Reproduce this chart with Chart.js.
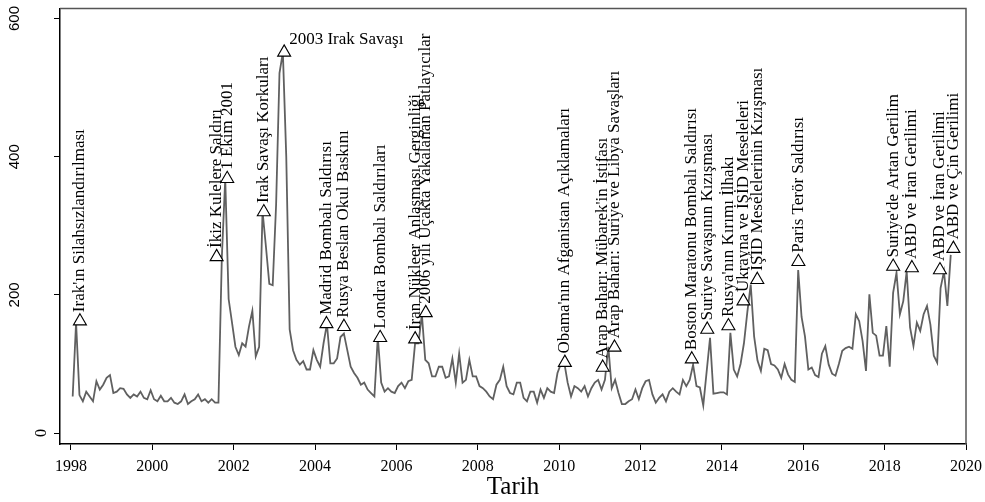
<!DOCTYPE html>
<html lang="tr">
<head>
<meta charset="UTF-8">
<title>Tarih</title>
<style>
  html, body { margin: 0; padding: 0; background: #fff; }
  #wrap { width: 985px; height: 502px; }
</style>
</head>
<body>
<div id="wrap"><canvas id="chart" width="985" height="502"></canvas></div>
<script src="https://cdn.jsdelivr.net/npm/chart.js"></script>
<script>
// monthly series, first value = January 1998
const START_YEAR = 1998;
const VALUES = [
  53,160,55,46,60,53,46,75,63,70, 80,84,58,60,65,64,56,51,56,53,
  60,51,49,62,49,46,54,46,46,51, 44,42,46,56,42,46,49,56,46,49,
  44,49,44,44,
  255,368,194,160,125,113,130,125,154,177, 111,125,321,270,216,214,330,521,551,400,
  150,120,106,99,104,92,92,120,106,96, 130,158,101,101,108,139,144,120,96,87,
  80,70,73,63,58,53,139,73,60,65, 60,58,68,73,65,75,77,130,130,172,
  106,101,82,82,96,96,80,82,108,73, 115,73,77,106,82,82,68,65,60,53,
  49,70,77,
  96,68,58,56,73,73,51,46,60,60, 44,63,51,65,60,58,87,100,102,73,
  53,68,65,60,68,53,65,73,77,63, 77,125,65,77,58,42,42,46,49,63,
  49,65,75,77,56,44,51,56,46,60, 65,60,56,77,68,77,99,68,66,40,
  89,138,57,58,59,
  59,56,145,92,82,100,130,175,215,140, 105,90,122,120,100,98,92,80,100,85,
  77,74,236,168,140,92,95,84,81,115, 126,99,86,83,100,
  119,123,125,122,172,162,133,90,201,145, 141,112,112,155,96,203,232,172,191,234,
  153,126,160,148,172,184,157,112,102,210, 234,184,258
];

const EVENT_LABELS = [
  "Irak'ın Silahsızlandırılması", "İkiz Kulelere Saldırı", "1 Ekim 2001",
  "Irak Savaşı Korkuları", "2003 Irak Savaşı", "Madrid Bombalı Saldırısı",
  "Rusya Beslan Okul Baskını", "Londra Bombalı Saldırıları",
  "İran Nükleer Anlaşması Gerginliği", "2006 yılı Uçakta Yakalanan Patlayıcılar",
  "Obama'nın Afganistan Açıklamaları", "Arap Baharı: Mübarek'in İstifası",
  "Arap Baharı: Suriye ve Libya Savaşları", "Boston Maratonu Bombalı Saldırısı",
  "Suriye Savaşının Kızışması", "Rusya'nın Kırımı İlhakı",
  "Ukrayna ve İŞİD Meseleleri", "İŞİD Meselelerinin Kızışması",
  "Paris Terör Saldırısı", "Suriye'de Artan Gerilim", "ABD ve İran Gerilimi",
  "ABD ve İran Gerilimi", "ABD ve Çin Gerilimi"
];
const EVENT_DATES = [
  1998.22, 2001.58, 2001.84, 2002.74, 2003.24, 2004.28, 2004.71, 2005.60,
  2006.46, 2006.72, 2010.14, 2011.07, 2011.36, 2013.26, 2013.64, 2014.16,
  2014.53, 2014.87, 2015.88, 2018.21, 2018.67, 2019.36, 2019.69
];
const EVENT_VALUES = [
  162, 255, 368, 320, 551, 158, 154, 138, 136, 174, 102, 95, 124, 107,
  150, 155, 191, 222, 248, 241, 239, 236, 267
];

const X_TICKS = [1998, 2000, 2002, 2004, 2006, 2008, 2010, 2012, 2014, 2016, 2018, 2020];
const Y_TICKS = [0, 200, 400, 600];

const SERIF = "'Liberation Serif', 'Times New Roman', serif";
const SANS = "'Liberation Sans', Arial, sans-serif";

const linePoints = VALUES.map((v, i) => ({ x: START_YEAR + (i + 0.5) / 12, y: v }));
const eventPoints = EVENT_DATES.map((d, i) => ({ x: d, y: EVENT_VALUES[i] }));

// frame, y labels and event labels
const extras = {
  id: 'extras',
  afterDatasetsDraw(chart) {
    const ctx = chart.ctx;
    const a = chart.chartArea;
    ctx.save();
    ctx.strokeStyle = '#555';
    ctx.lineWidth = 1.5;
    ctx.beginPath();
    ctx.moveTo(a.left, a.top);
    ctx.lineTo(a.right, a.top);
    ctx.lineTo(a.right, a.bottom);
    ctx.stroke();

    // event labels
    const meta = chart.getDatasetMeta(0);
    ctx.fillStyle = '#000';
    ctx.font = '17px ' + SERIF;
    meta.data.forEach((pt, i) => {
      const label = EVENT_LABELS[i];
      ctx.save();
      ctx.translate(pt.x, pt.y);
      if (label === '2003 Irak Savaşı') {
        ctx.textAlign = 'left';
        ctx.textBaseline = 'alphabetic';
        ctx.fillText(label, 5, -8);
      } else {
        ctx.rotate(-Math.PI / 2);
        ctx.textAlign = 'left';
        ctx.textBaseline = 'middle';
        ctx.fillText(label, 9, 0);
      }
      ctx.restore();
    });

    // rotated y tick labels
    const ys = chart.scales.y;
    Y_TICKS.forEach(v => {
      const py = ys.getPixelForValue(v);
      ctx.save();
      if (v === 0) {
        ctx.translate(42, py);
        ctx.font = '16px ' + SERIF;
      } else {
        ctx.translate(15, py);
        ctx.font = '15px ' + SANS;
      }
      ctx.rotate(-Math.PI / 2);
      ctx.textAlign = 'center';
      ctx.textBaseline = 'middle';
      ctx.fillText(String(v), 0, 0);
      ctx.restore();
    });
    ctx.restore();
  }
};

new Chart(document.getElementById('chart'), {
  type: 'scatter',
  data: {
    datasets: [
      {
        label: 'Olaylar',
        data: eventPoints,
        pointStyle: 'triangle',
        pointRadius: 7.5,
        pointBackgroundColor: '#fff',
        pointBorderColor: '#000',
        pointBorderWidth: 1.1,
        showLine: false,
        order: 0
      },
      {
        label: 'Seri',
        data: linePoints,
        showLine: true,
        borderColor: '#606060',
        borderWidth: 1.8,
        pointRadius: 0,
        tension: 0,
        order: 1
      }
    ]
  },
  options: {
    responsive: false,
    animation: false,
    devicePixelRatio: 1,
    layout: { padding: { top: 5, right: 19, left: 0, bottom: 0 } },
    plugins: { legend: { display: false }, tooltip: { enabled: false } },
    scales: {
      x: {
        type: 'linear',
        min: 1997.73,
        max: 2020,
        afterBuildTicks: s => { s.ticks = X_TICKS.map(v => ({ value: v })); },
        afterFit: s => { s.height = 58; },
        ticks: {
          autoSkip: false, maxRotation: 0, padding: 3, color: '#000',
          font: { family: SERIF, size: 16, lineHeight: 1.75 },
          callback: v => String(v)
        },
        grid: { drawOnChartArea: false, drawTicks: true, tickLength: 6, color: '#000', lineWidth: 1 },
        border: { display: true, color: '#000', width: 1.5 },
        title: {
          display: true, text: 'Tarih', color: '#000',
          font: { family: SERIF, size: 25 }, padding: { top: 0, bottom: 0 }
        }
      },
      y: {
        min: -15.79,
        max: 614.35,
        afterBuildTicks: s => { s.ticks = Y_TICKS.map(v => ({ value: v })); },
        afterFit: s => { s.width = 60; },
        ticks: { display: false },
        grid: { drawOnChartArea: false, drawTicks: true, tickLength: 6, color: '#000', lineWidth: 1 },
        border: { display: true, color: '#000', width: 1.5 }
      }
    }
  },
  plugins: [extras]
});
</script>
</body>
</html>
